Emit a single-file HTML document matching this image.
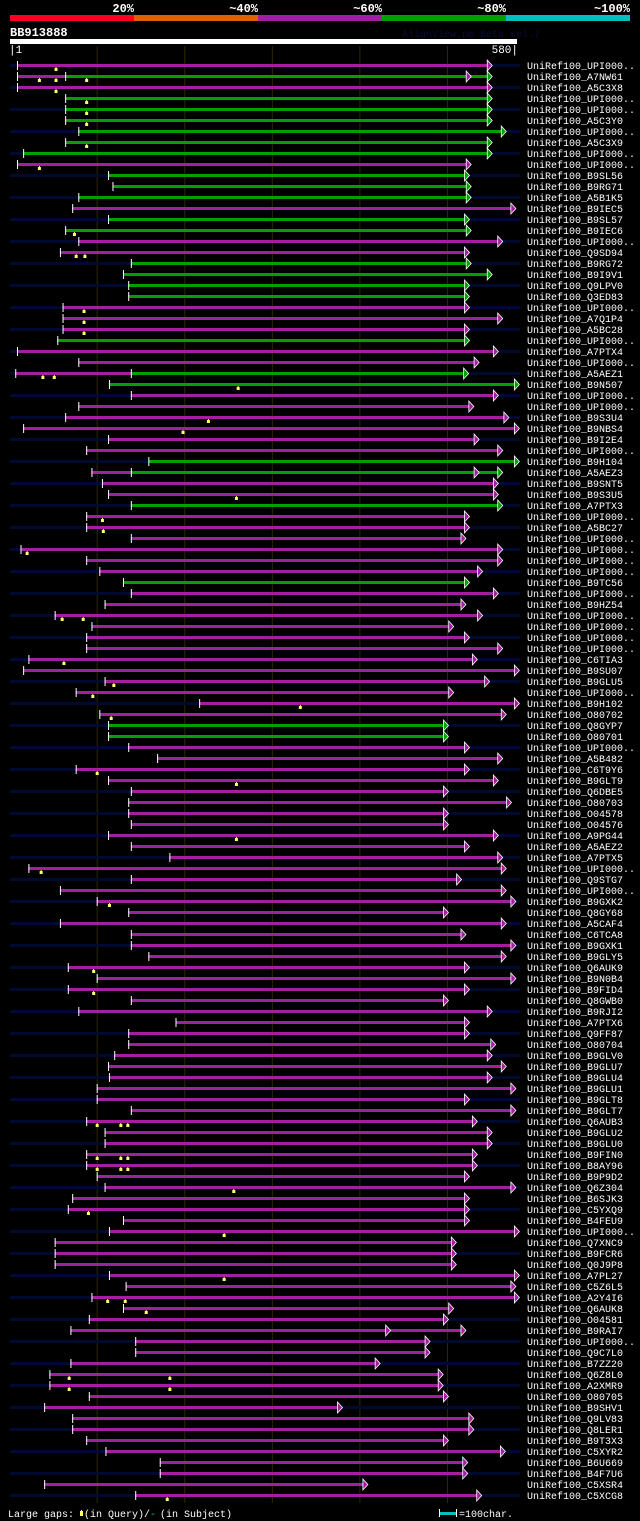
<!DOCTYPE html>
<html><head><meta charset="utf-8"><style>
html,body{margin:0;padding:0;background:#000;}
body{width:640px;height:1521px;overflow:hidden;font-family:"Liberation Mono",monospace;}
svg{display:block}
</style></head><body>
<svg id="chart" width="640" height="1521" viewBox="0 0 640 1521" xmlns="http://www.w3.org/2000/svg" font-family="Liberation Mono, monospace">
<g>
<rect x="10" y="15" width="124" height="6" fill="#ff0022"/>
<rect x="134" y="15" width="124" height="6" fill="#e06000"/>
<rect x="258" y="15" width="124" height="6" fill="#a020a0"/>
<rect x="382" y="15" width="124" height="6" fill="#00a000"/>
<rect x="506" y="15" width="124" height="6" fill="#00c0c0"/>
<g fill="#fff" font-size="12" font-weight="bold" text-anchor="end">
<text x="134" y="12">20%</text><text x="258" y="12">~40%</text><text x="382" y="12">~60%</text><text x="506" y="12">~80%</text><text x="630" y="12">~100%</text>
</g></g>
<text x="10" y="36" fill="#fff" font-size="12" font-weight="bold">BB913888</text>
<text x="402" y="37" fill="#0c0c38" font-size="10">AlignView.pm Beta rel.7</text>
<rect x="10" y="39" width="507" height="5" fill="#fff"/>
<text x="9" y="53" fill="#fff" font-size="11">|1</text>
<text x="518" y="53" fill="#fff" font-size="11" text-anchor="end">580|</text>
<g id="grid"></g>
<g id="rows"></g>
<g font-size="10" fill="#fff">
<text x="8" y="1517">Large gaps:</text>
<rect x="80" y="1511" width="3" height="5" fill="#ffff66"/><rect x="81" y="1510" width="1" height="1" fill="#ffff66"/>
<text x="84" y="1517">(in Query)/</text>
<text x="150" y="1517" fill="#00c0c0">-</text>
<text x="160" y="1517">(in Subject)</text>
<rect x="440" y="1512" width="16" height="3" fill="#00c0c0"/>
<rect x="439" y="1509" width="1" height="8" fill="#fff"/><rect x="456" y="1509" width="1" height="8" fill="#fff"/>
<text x="459" y="1517">=100char.</text>
</g>
</svg>
<script>
const queryLength = 580;
const names = ["UPI000..","A7NW61","A5C3X8","UPI000..","UPI000..","A5C3Y0","UPI000..","A5C3X9","UPI000..","UPI000..","B9SL56","B9RG71","A5B1K5","B9IEC5","B9SL57","B9IEC6","UPI000..","Q9SD94","B9RG72","B9I9V1","Q9LPV0","Q3ED83","UPI000..","A7Q1P4","A5BC28","UPI000..","A7PTX4","UPI000..","A5AEZ1","B9N507","UPI000..","UPI000..","B9S3U4","B9NBS4","B9I2E4","UPI000..","B9H104","A5AEZ3","B9SNT5","B9S3U5","A7PTX3","UPI000..","A5BC27","UPI000..","UPI000..","UPI000..","UPI000..","B9TC56","UPI000..","B9HZ54","UPI000..","UPI000..","UPI000..","UPI000..","C6TIA3","B9SU07","B9GLU5","UPI000..","B9H102","O80702","Q8GYP7","O80701","UPI000..","A5B482","C6T9Y6","B9GLT9","Q6DBE5","O80703","O04578","O04576","A9PG44","A5AEZ2","A7PTX5","UPI000..","Q9STG7","UPI000..","B9GXK2","Q8GY68","A5CAF4","C6TCA8","B9GXK1","B9GLY5","Q6AUK9","B9N0B4","B9FID4","Q8GWB0","B9RJI2","A7PTX6","Q9FF87","O80704","B9GLV0","B9GLU7","B9GLU4","B9GLU1","B9GLT8","B9GLT7","Q6AUB3","B9GLU2","B9GLU0","B9FIN0","B8AY96","B9P9D2","Q6Z304","B6SJK3","C5YXQ9","B4FEU9","UPI000..","Q7XNC9","B9FCR6","Q0J9P8","A7PL27","C5Z6L5","A2Y4I6","Q6AUK8","O04581","B9RAI7","UPI000..","Q9C7L0","B7ZZ20","Q6Z8L0","A2XMR9","O80705","B9SHV1","Q9LV83","Q8LER1","B9T3X3","C5XYR2","B6U669","B4F7U6","C5XSR4","C5XCG8"];
const starts = [9,9,9,64,64,64,79,64,16,9,113,118,79,72,113,64,79,58,139,130,136,136,61,61,61,55,
9,79,7,114,139,79,64,16,113,88,159,94,106,113,139,88,88,139,13,88,103,130,139,109,52,94,
88,88,22,16,109,76,217,103,113,113,136,169,76,113,139,136,136,139,113,139,183,22,139,58,100,136,
58,139,139,159,67,100,67,139,79,190,136,136,120,113,114,100,100,139,88,109,109,88,88,100,109,72,
67,130,114,52,52,52,114,133,94,130,91,70,144,144,70,46,46,91,40,72,72,88,110,172,172,40,144];
const ends = [546,546,546,546,546,546,562,546,546,522,520,522,522,573,520,522,558,520,522,546,520,520,520,558,520,520,
553,531,519,577,553,525,565,577,531,558,577,558,553,553,558,520,520,516,558,558,535,520,553,516,535,502,
520,558,529,577,543,502,577,562,496,496,520,558,520,553,496,568,496,496,553,520,558,562,511,562,573,496,
562,516,573,562,520,573,520,496,546,520,520,550,546,562,546,573,520,573,529,546,546,529,529,520,573,520,
520,520,577,505,505,505,577,573,577,502,496,516,475,475,418,490,490,496,375,525,525,496,561,518,518,404,534];
const colors = "mgmggggggmgggmggmmggggmmmg" + "mmggmmmmmmggmmgmmmmmmgmmmm" + "mmmmmmmmggmmmmmmmmmmmmmmmm" + "mmmmmmmmmmmmmmmmmmmmmmmmmm" + "mmmmmmmmmmmmmmmmmmmmmmmmmmm";
const prefixEnds = {1:64, 28:139, 37:139};
const extraArrows = {1:522, 37:531, 115:430};
const gapRows = [0,1,1,1,2,3,4,5,7,9,15,17,17,22,23,24,28,28,29,32,33,39,41,42,44,50,50,54,56,57,58,59,64,65,70,73,76,82,84,96,96,96,99,99,99,100,100,100,102,104,106,110,112,112,113,119,119,120,120,130];
const gapPos  = [53,34,53,88,53,88,88,88,88,34,74,76,86,85,85,85,38,51,261,227,198,259,106,107,20,60,84,62,119,95,332,116,100,259,259,36,114,96,96,100,127,135,100,127,135,100,127,135,256,90,245,245,112,132,156,68,183,68,183,180];

const NS = "http://www.w3.org/2000/svg";
const x0 = 10, x1 = 517, rowY0 = 65, rowStep = 11;
function xScale(q){ return x0 + (q - 1) * (x1 - x0) / (queryLength - 1); }
function yScale(i){ return rowY0 + i * rowStep; }
function mk(tag, attrs, parent){ const e = document.createElementNS(NS, tag); for (const k in attrs) e.setAttribute(k, attrs[k]); parent.appendChild(e); return e; }
const COL = {m:"#a020a0", g:"#00a000"};

const grid = document.getElementById("grid");
[100,200,300,400,500].forEach(t => {
  const l = mk("line", {x1:xScale(t)+0.5, x2:xScale(t)+0.5, y1:46, y2:1503, stroke:"#2c2800", "stroke-width":1}, grid);
  
  
});

const rows = document.getElementById("rows");
names.forEach((nm, i) => {
  const y = yScale(i);
  const g = mk("g", {}, rows);
  
  
  if (i % 2 === 0) mk("rect", {x:10, y:y-1, width:510, height:3, fill:"#000a30"}, g);
  const xs = xScale(starts[i]), xe = xScale(ends[i]);
  const c = COL[colors[i]] || COL.m;
  const bar = mk("rect", {x:xs, y:y-1, width:Math.max(0, xe - xs), height:3, fill:c}, g);
  
  
  if (prefixEnds[i] !== undefined) {
    const xp = xScale(prefixEnds[i]);
    mk("rect", {x:xs, y:y-1, width:xp - xs, height:3, fill:COL.m}, g);
    mk("rect", {x:xp, y:y-4, width:1, height:9, fill:"#fff"}, g);
  }
  mk("rect", {x:xs, y:y-4, width:1, height:9, fill:"#fff"}, g);
  const drawArrow = (xa, col) => {
    mk("polygon", {points:`${xa},${y-5} ${xa+5},${y+0.5} ${xa},${y+6}`, fill:col, stroke:"#fff", "stroke-width":0.8}, g);
  };
  if (extraArrows[i] !== undefined) drawArrow(xScale(extraArrows[i]), i === 1 || i === 37 ? COL.m : c);
  drawArrow(xe, c);
  const t = mk("text", {x:527, y:y+4, fill:"#fff", "font-size":"10"}, g);
  t.textContent = "UniRef100_" + nm;
  
  
});

gapRows.forEach((r, k) => {
  const y = yScale(r);
  const x = xScale(gapPos[k]);
  const m = mk("g", {}, rows);
  
  
  mk("rect", {x:x-1, y:y+3, width:3, height:3, fill:"#ffff66"}, m);
  mk("rect", {x:x, y:y+2, width:1, height:1, fill:"#ffff66"}, m);
});
</script>
</body></html>
